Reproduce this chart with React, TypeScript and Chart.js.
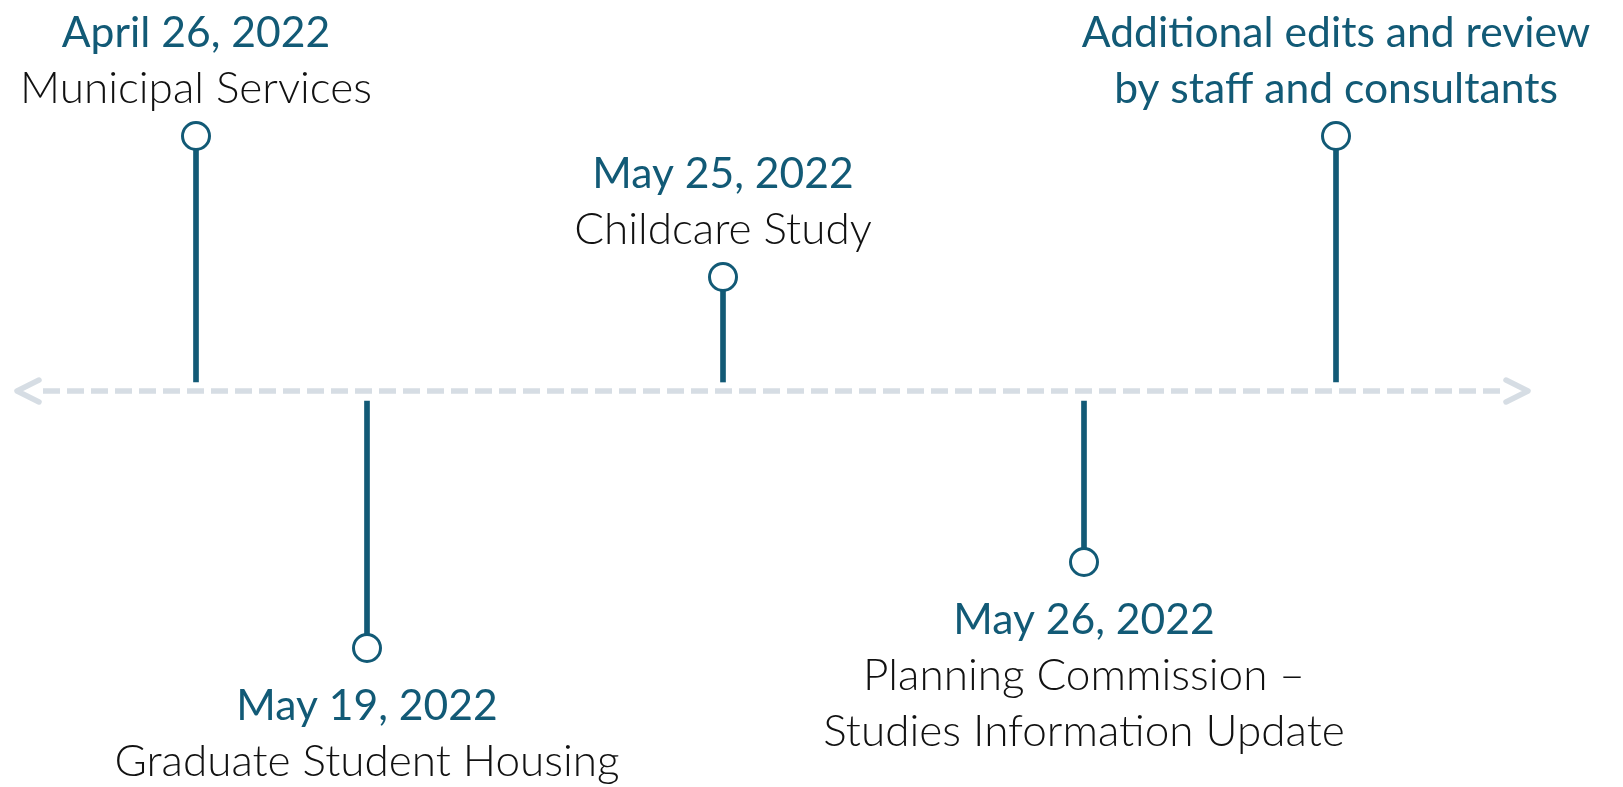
import React, { useEffect, useRef } from "react";
import { Chart, registerables } from "chart.js";

Chart.register(...registerables);

// ---- Data (timeline events) ----
// position along the timeline (arbitrary timeline units) and stem height (+ above, - below)
const positions = [1.96, 3.67, 7.23, 10.84, 13.36];
const heights = [2.55, -2.57, 1.14, -1.71, 2.55];
const titles: string[][] = [
  ["April 26, 2022"],
  ["May 19, 2022"],
  ["May 25, 2022"],
  ["May 26, 2022"],
  ["Additional edits and review", "by staff and consultants"],
];
const descriptions: string[][] = [
  ["Municipal Services"],
  ["Graduate Student Housing"],
  ["Childcare Study"],
  ["Planning Commission \u2013", "Studies Information Update"],
  [],
];

// ---- Style ----
const TEAL = "#125a76";
const AXIS_COLOR = "#d6dde4";
const TEXT_DARK = "#111111";
const FONT_FAMILY = "Lato, 'Open Sans', sans-serif";
const AXIS_LINE = [0.43, 15.0];
const AXIS_TIPS = [0.17, 15.28];
const STEM_GAP = 0.09;
const LINE_GAP = 56;

function fitSize(ctx: CanvasRenderingContext2D, samples: string[], target: number, weight: number) {
  ctx.font = `${weight} 100px ${FONT_FAMILY}`;
  let w = 0;
  samples.forEach((s) => (w += ctx.measureText(s).width));
  return (100 * target) / w;
}

const timelinePlugin = {
  id: "timelineDecor",
  afterDatasetsDraw(chart: any) {
    const { ctx } = chart;
    const xs = chart.scales.x;
    const ys = chart.scales.y;
    const y0 = ys.getPixelForValue(0);

    ctx.save();
    // arrow heads (open chevrons)
    ctx.strokeStyle = AXIS_COLOR;
    ctx.lineWidth = 5.5;
    ctx.lineCap = "round";
    ctx.lineJoin = "round";
    const xl = xs.getPixelForValue(AXIS_TIPS[0]);
    const xr = xs.getPixelForValue(AXIS_TIPS[1]);
    ctx.beginPath();
    ctx.moveTo(xl + 22, y0 - 11);
    ctx.lineTo(xl, y0);
    ctx.lineTo(xl + 22, y0 + 11);
    ctx.stroke();
    ctx.beginPath();
    ctx.moveTo(xr - 22, y0 - 11);
    ctx.lineTo(xr, y0);
    ctx.lineTo(xr - 22, y0 + 11);
    ctx.stroke();

    // labels
    const titleSize = fitSize(ctx, ["April 26, 2022", "Additional edits and review"], 264 + 513, 400);
    const descSize = fitSize(ctx, ["Municipal Services", "Graduate Student Housing", "Childcare Study"], 354 + 505 + 296, 300);
    ctx.textAlign = "center";
    ctx.textBaseline = "alphabetic";

    positions.forEach((p, i) => {
      const cx = xs.getPixelForValue(p);
      const cy = ys.getPixelForValue(heights[i]);
      const lines: { t: string; title: boolean }[] = [];
      titles[i].forEach((t) => lines.push({ t, title: true }));
      descriptions[i].forEach((t) => lines.push({ t, title: false }));
      let firstBase: number;
      if (heights[i] > 0) {
        firstBase = cy - 33 - LINE_GAP * (lines.length - 1);
      } else {
        firstBase = cy + 72;
      }
      lines.forEach((ln, k) => {
        if (ln.title) {
          ctx.font = `400 ${titleSize}px ${FONT_FAMILY}`;
          ctx.fillStyle = TEAL;
        } else {
          ctx.font = `300 ${descSize}px ${FONT_FAMILY}`;
          ctx.fillStyle = TEXT_DARK;
        }
        ctx.fillText(ln.t, cx, firstBase + k * LINE_GAP);
      });
    });
    ctx.restore();
  },
};

export default function App() {
  const ref = useRef<HTMLCanvasElement>(null);

  useEffect(() => {
    const canvas = ref.current;
    if (!canvas) return;
    const chart = new Chart(canvas, {
      type: "scatter",
      data: {
        datasets: [
          {
            type: "scatter",
            label: "events",
            data: positions.map((p, i) => ({ x: p, y: heights[i] })),
            pointRadius: 13.5,
            pointHoverRadius: 13.5,
            pointBorderWidth: 3,
            pointBackgroundColor: "#ffffff",
            pointBorderColor: TEAL,
            showLine: false,
            order: 0,
          } as any,
          {
            type: "bar",
            label: "stems",
            data: positions.map((p, i) => ({
              x: p,
              y: heights[i] > 0 ? [STEM_GAP, heights[i]] : [-STEM_GAP - 0.01, heights[i]],
            })),
            backgroundColor: TEAL,
            borderWidth: 0,
            barThickness: 5,
            order: 1,
          } as any,
          {
            type: "line",
            label: "axis",
            data: [
              { x: AXIS_LINE[0], y: 0 },
              { x: AXIS_LINE[1], y: 0 },
            ],
            borderColor: AXIS_COLOR,
            borderWidth: 5.5,
            borderDash: [17, 7],
            pointRadius: 0,
            fill: false,
            order: 2,
          } as any,
        ],
      },
      options: {
        responsive: false,
        animation: false,
        events: [],
        layout: { padding: 0, autoPadding: false } as any,
        plugins: {
          legend: { display: false },
          tooltip: { enabled: false },
        },
        scales: {
          x: { type: "linear", min: 0, max: 16.23, display: false, offset: false },
          y: { type: "linear", min: -3.96, max: 3.91, display: false },
        },
      },
      plugins: [timelinePlugin],
    });
    return () => chart.destroy();
  }, []);

  return (
    <div style={{ position: "absolute", left: 0, top: 0, width: 1623, height: 787, background: "#ffffff" }}>
      <canvas ref={ref} width={1623} height={787} style={{ display: "block", width: 1623, height: 787 }} />
    </div>
  );
}
